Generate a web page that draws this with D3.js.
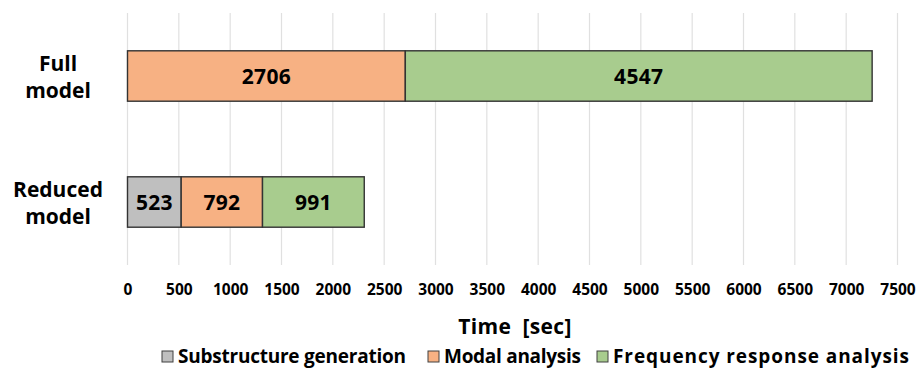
<!DOCTYPE html>
<html>
<head>
<meta charset="utf-8">
<script src="https://cdn.jsdelivr.net/npm/d3@7"></script>
<style>
  html, body { margin: 0; padding: 0; background: #fff; }
  svg { display: block; }
  text { font-family: "Open Sans", "Noto Sans", sans-serif; font-weight: bold; fill: #000; }
</style>
</head>
<body>
<svg id="chart" width="916" height="369"></svg>
<script>
// Computation time per model, split by analysis stage
const models = ["Full model", "Reduced model"];
const modelLines = [["Full", "model"], ["Reduced", "model"]];
const stages = ["Substructure generation", "Modal analysis", "Frequency response analysis"];
const substructure = [0, 523];
const modal = [2706, 792];
const frequency = [4547, 991];
const ticks = [0, 500, 1000, 1500, 2000, 2500, 3000, 3500, 4000, 4500, 5000, 5500, 6000, 6500, 7000, 7500];
const colors = ["#BFBFBF", "#F7B183", "#A8CC8E"];

const svg = d3.select("#chart");
const plot = { left: 127.5, right: 897.5, top: 13, bottom: 265 };

const x = d3.scaleLinear().domain([0, 7500]).range([plot.left, plot.right]);
const y = d3.scaleBand().domain(models).range([plot.top, plot.bottom]).paddingInner(0.6).paddingOuter(0.3);

// vertical gridlines
svg.append("g").selectAll("line").data(ticks).join("line")
  .attr("x1", d => x(d)).attr("x2", d => x(d))
  .attr("y1", plot.top).attr("y2", plot.bottom)
  .attr("stroke", "#E0E0E0").attr("stroke-width", 1.2);

// tick labels via axis
const axis = svg.append("g").attr("transform", `translate(0,${plot.bottom})`)
  .call(d3.axisBottom(x).tickValues(ticks).tickSize(0).tickPadding(19).tickFormat(d3.format("d")));
axis.select(".domain").remove();
axis.selectAll("text")
  .attr("font-size", 15.5)
  .attr("font-family", "'Open Sans', sans-serif").attr("font-weight", "bold").attr("fill", "#000");

// stacked segments
const rows = models.map((m, i) => ({ model: m, values: [substructure[i], modal[i], frequency[i]] }));
const segs = [];
rows.forEach(r => {
  let acc = 0;
  r.values.forEach((v, k) => {
    if (v > 0) segs.push({ model: r.model, x0: acc, x1: acc + v, v, k });
    acc += v;
  });
});

svg.append("g").selectAll("rect").data(segs).join("rect")
  .attr("x", d => x(d.x0)).attr("width", d => x(d.x1) - x(d.x0))
  .attr("y", d => y(d.model)).attr("height", y.bandwidth())
  .attr("fill", d => colors[d.k])
  .attr("stroke", "#333").attr("stroke-width", 1.4);

svg.append("g").selectAll("text").data(segs).join("text")
  .attr("x", d => (x(d.x0) + x(d.x1)) / 2)
  .attr("y", d => y(d.model) + y.bandwidth() / 2)
  .attr("dy", "0.36em").attr("text-anchor", "middle")
  .attr("font-size", 21).attr("letter-spacing", 0.3)
  .text(d => d.v);

// category labels, two lines each
const cat = svg.append("g").selectAll("text").data(models).join("text")
  .attr("text-anchor", "middle").attr("font-size", 21);
cat.each(function(m, i) {
  const t = d3.select(this);
  const cy = y(m) + y.bandwidth() / 2;
  modelLines[i].forEach((line, j) => {
    t.append("tspan").attr("x", 58).attr("y", cy - 5 + j * 26.5).text(line);
  });
});

// axis title
svg.append("text").attr("x", 515).attr("y", 334)
  .attr("text-anchor", "middle").attr("font-size", 21).attr("letter-spacing", 0.3)
  .style("white-space", "pre")
  .text("Time  [sec]");

// legend
const legendX = [162, 428, 597];
const legendW = [228, 137, 296];
const lg = svg.append("g").selectAll("g").data(stages).join("g")
  .attr("transform", (d, i) => `translate(${legendX[i]},0)`);
lg.append("rect").attr("x", 0).attr("y", 351).attr("width", 11).attr("height", 11)
  .attr("fill", (d, i) => colors[i]).attr("stroke", "#404040").attr("stroke-width", 1);
lg.append("text").attr("x", 16).attr("y", 363).attr("font-size", 19)
  .attr("textLength", (d, i) => legendW[i]).attr("lengthAdjust", "spacing")
  .text(d => d);
</script>
</body>
</html>
